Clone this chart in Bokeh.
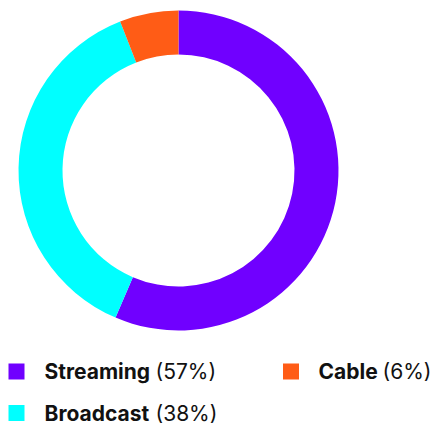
import math
from bokeh.plotting import figure
from bokeh.models import Range1d, ColumnDataSource
from bokeh.core.properties import value
from bokeh.embed import file_html
from bokeh.resources import INLINE

# ---- data ----
categories = ["Streaming", "Broadcast", "Cable"]
shares = [57, 38, 6]
colors = ["#7000FF", "#00FFFF", "#FF5C16"]

# legend layout order
legend_order = ["Streaming", "Cable", "Broadcast"]

W, H = 430, 424
p = figure(width=W, height=H, output_backend="svg", toolbar_location=None,
           x_range=Range1d(0, W), y_range=Range1d(0, H), min_border=0,
           outline_line_color=None)
p.axis.visible = False
p.grid.visible = False
p.background_fill_color = "white"
p.border_fill_color = "white"

# ---- donut ----
total = sum(shares)
starts, ends = [], []
acc = 0.0
for s in shares:
    a0 = math.pi / 2 - 2 * math.pi * acc / total
    acc += s
    a1 = math.pi / 2 - 2 * math.pi * acc / total
    starts.append(a0)
    ends.append(a1)

src = ColumnDataSource(dict(cat=categories, share=shares, color=colors,
                            start=starts, end=ends))
cx, cy = 178, 254
p.annular_wedge(x=cx, y=cy, inner_radius=116, outer_radius=160,
                start_angle="start", end_angle="end", direction="clock",
                fill_color="color", line_color=None, source=src)

# ---- legend ----
# (square centre x, square centre y, text x)
pos = {"Streaming": (16, 53, 44), "Cable": (290.5, 53, 318), "Broadcast": (16, 11.5, 44)}
name_w = {"Streaming": 111, "Cable": 64, "Broadcast": 111}
lx, ly, lc, tx, ty, px, plab, names = [], [], [], [], [], [], [], []
for c in legend_order:
    i = categories.index(c)
    sx, sy, x0 = pos[c]
    lx.append(sx); ly.append(sy); lc.append(colors[i])
    tx.append(x0); ty.append(sy); names.append(c)
    px.append(x0 + name_w[c]); plab.append(f"({shares[i]}%)")

p.rect(x=lx, y=ly, width=16, height=16, fill_color=lc, line_color=None)
p.text(x=tx, y=ty, text=names, text_font=value("Inter"), text_font_style="bold",
       text_font_size="21px", text_baseline="middle", text_align="left",
       text_color="#111111")
p.text(x=px, y=ty, text=plab, text_font=value("Inter"), text_font_style="normal",
       text_font_size="21px", text_baseline="middle", text_align="left",
       text_color="#111111")

open("out.html", "w").write(file_html(p, INLINE))
